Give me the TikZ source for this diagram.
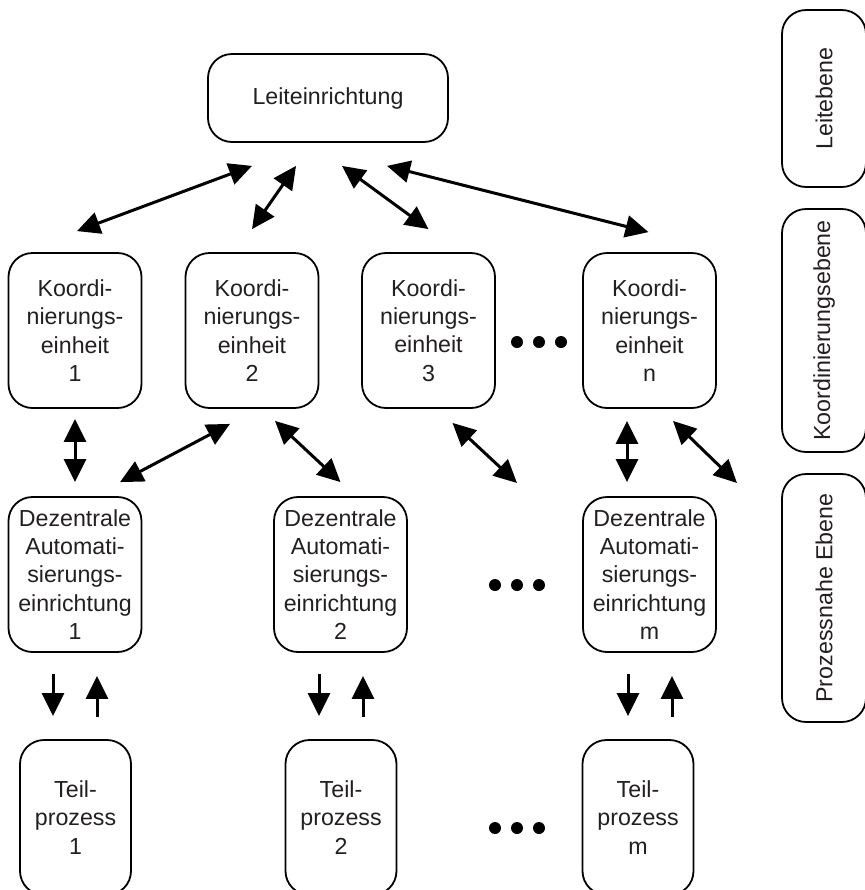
\documentclass[tikz,border=0pt]{standalone}
\usepackage{fontspec}
\setmainfont{Liberation Sans}
\usepackage{tikz}
\usetikzlibrary{arrows.meta,calc}
\definecolor{Ink}{HTML}{231F20}
\newcommand\boxfont{\fontsize{11.6pt}{14.1pt}\selectfont}
\tikzset{
  >={Triangle[length=11.5pt,width=11pt]},
  unit/.style={draw=black,line width=.9pt,rounded corners=12pt,align=center,inner sep=1pt,text=Ink,font=\boxfont},
  head/.style={unit,minimum width=120pt,minimum height=44pt},
  koord/.style={unit,minimum width=66.5pt,minimum height=77.5pt},
  dez/.style={koord},
  teil/.style={unit,minimum width=55.5pt,minimum height=77.5pt},
  level/.style={unit,rotate=90,minimum height=42pt},
  link/.style={<->,line width=1.5pt,draw=black},
  flow/.style={->,line width=1.5pt,draw=black},
  more/.style={fill=black}
}

\begin{document}
\begin{tikzpicture}[x=.5pt,y=-.5pt]
  \useasboundingbox (0,0) rectangle (865,890);
  \clip (0,0) rectangle (865,890);
  % levels
  \node[head] (leit) at (328,98) {Leiteinrichtung};
  \node[koord] (k1) at (75,330.5) {Koordi-\\nierungs-\\einheit\\1};
  \node[koord] (k2) at (252,330.5) {Koordi-\\nierungs-\\einheit\\2};
  \node[koord] (k3) at (428.5,330.5) {Koordi-\\nierungs-\\einheit\\3};
  \node[koord] (kn) at (649.5,330.5) {Koordi-\\nierungs-\\einheit\\n};
  \node[dez] (d1) at (75,574.5) {Dezentrale\\Automati-\\sierungs-\\einrichtung\\1};
  \node[dez] (d2) at (340.5,574.5) {Dezentrale\\Automati-\\sierungs-\\einrichtung\\2};
  \node[dez] (dm) at (649.5,574.5) {Dezentrale\\Automati-\\sierungs-\\einrichtung\\m};
  \node[teil] (t1) at (75.5,817.5) {Teil-\\prozess\\1};
  \node[teil] (t2) at (341,817.5) {Teil-\\prozess\\2};
  \node[teil] (tm) at (638,817.5) {Teil-\\prozess\\m};
  % side labels
  \node[level,minimum width=88.5pt] (lvl1) at (824,98.5) {Leitebene};
  \node[level,minimum width=121.5pt] (lvl2) at (824,330.5) {Koordinierungsebene};
  \node[level,minimum width=124pt] (lvl3) at (824,598) {Prozessnahe Ebene};
  % open ends
  \coordinate (gap3) at (517,483);
  \coordinate (gapn) at (737,483);
  % dots
  \foreach \x in {517,539,561} \fill[more] (\x,342) circle[radius=3pt];
  \foreach \x in {495,517,539} \fill[more] (\x,585) circle[radius=3pt];
  \foreach \x in {495,517,539} \fill[more] (\x,828) circle[radius=3pt];
  % top links
  \draw[link] ($(leit.south)+(-76,23)$) -- ($(k1.north)+(2,-21)$);
  \draw[link] ($(leit.south)+(-32,23)$) -- ($(k2.north)+(0,-23)$);
  \draw[link] ($(leit.south)+(14,23)$) -- ($(k3.north)+(0,-23)$);
  \draw[link] ($(leit.south)+(59,23)$) -- ($(kn.north)+(-1,-20)$);
  % middle links
  \draw[link] ($(k1.south)+(0,10)$) -- ($(d1.north)+(0,-14)$);
  \draw[link] ($(k2.south)+(-22,15)$) -- ($(d1.north)+(45,-14)$);
  \draw[link] ($(k2.south)+(23,12)$) -- ($(d2.north)+(0,-14)$);
  \draw[link] ($(k3.south)+(24,14)$) -- (gap3);
  \draw[link] ($(kn.south)+(-22.5,12)$) -- ($(dm.north)+(-22.5,-14)$);
  \draw[link] ($(kn.south)+(23.5,12)$) -- (gapn);
  % process links
  \draw[flow] ($(d1.south)+(-22,21)$) -- ($(t1.north)+(-22.5,-23)$);
  \draw[flow] ($(t1.north)+(21.5,-22)$) -- ($(d1.south)+(22,23)$);
  \draw[flow] ($(d2.south)+(-21.5,21)$) -- ($(t2.north)+(-22,-23)$);
  \draw[flow] ($(t2.north)+(22,-22)$) -- ($(d2.south)+(22.5,23)$);
  \draw[flow] ($(dm.south)+(-21.5,21)$) -- ($(tm.north)+(-10,-23)$);
  \draw[flow] ($(tm.north)+(34,-22)$) -- ($(dm.south)+(22.5,23)$);
\end{tikzpicture}
\end{document}
